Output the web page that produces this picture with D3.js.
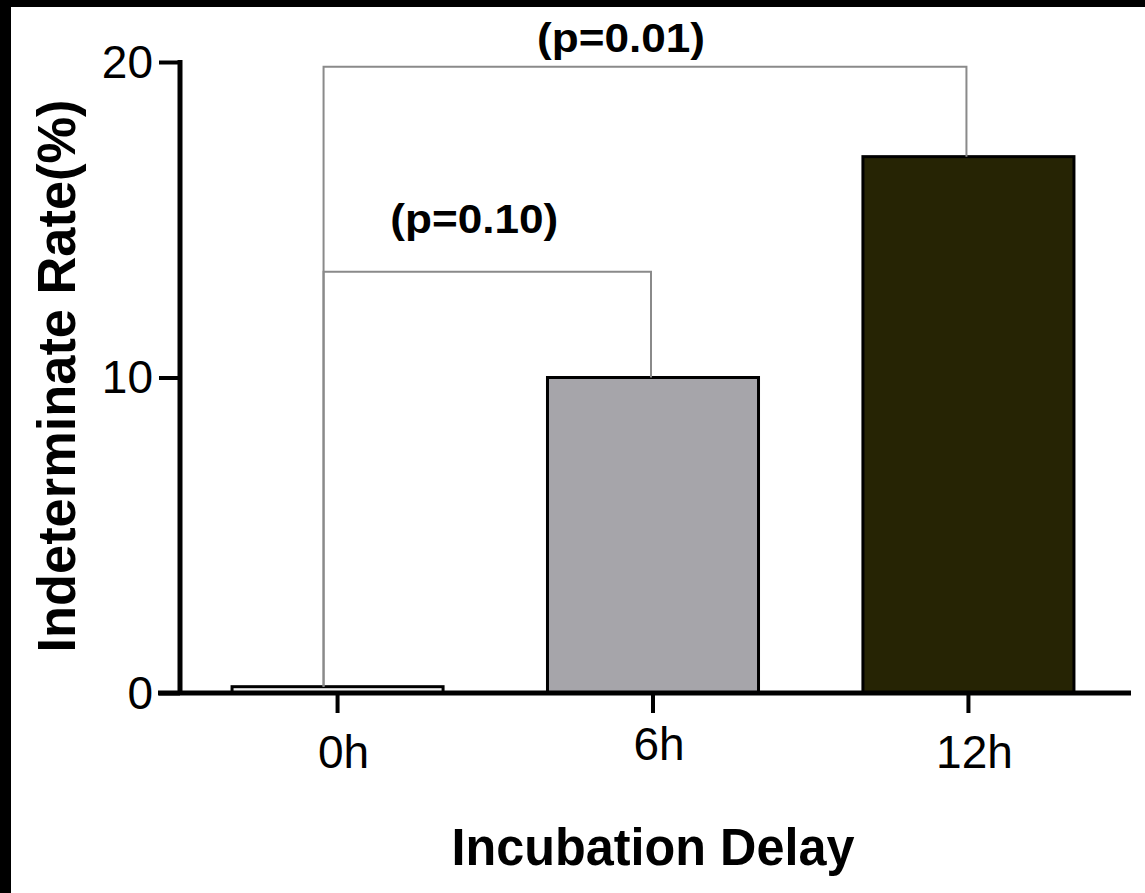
<!DOCTYPE html>
<html>
<head>
<meta charset = 'utf-8'>
<script src = 'https://d3js.org/d3.v7.min.js'></script>
<style>
body { margin: 0; background: #fff; }
text { font-family: 'Liberation Sans', Arial, sans-serif; fill: #000; }
</style>
</head>
<body>
<div id="my_dataviz"></div>
<script>
// data
var categories = ['0h', '6h', '12h'];
var rates = [0.2, 10.0, 17.0];
var barColors = ['#f2f2f2', '#a6a5aa', '#262404'];
var yTicks = [0, 10, 20];
var bracketFrom = ['0h', '0h'];
var bracketTo = ['6h', '12h'];
var bracketLevel = [13.35, 19.85];
var bracketLabels = ['(p=0.10)', '(p=0.01)'];

var W = 1145, H = 893;

var svg = d3.select('#my_dataviz')
.append('svg')
.attr('width', W)
.attr('height', H);

// black frame on the top and left edges
svg.append('rect').attr('width', W).attr('height', H).style('fill', '#000');
svg.append('rect').attr('x', 11).attr('y', 7).attr('width', W - 11).attr('height', H - 7).style('fill', '#fff');

var x = d3.scaleBand()
.domain(categories)
.range([180, 1126])
.paddingInner(0.331)
.paddingOuter(0.165);

var y = d3.scaleLinear()
.domain([0, 20])
.range([693, 62]);

var cx = function(c) { return x(c) + x.bandwidth() / 2; };

// bars
svg.selectAll('.bar')
.data(categories)
.enter()
.append('rect')
.attr('class', 'bar')
.attr('x', function(d) { return x(d); })
.attr('width', x.bandwidth())
.attr('y', function(d, i) { return y(rates[i]); })
.attr('height', function(d, i) { return y(0) - y(rates[i]); })
.style('fill', function(d, i) { return barColors[i]; })
.style('stroke', '#000')
.style('stroke-width', 3);

// significance brackets
var labelDx = [-13, -24];
var labelDy = [-39, -15];
bracketLevel.forEach(function(v, i) {
  var x1 = cx(bracketFrom[i]) - 14,
      x2 = cx(bracketTo[i]) - 2,
      i1 = categories.indexOf(bracketFrom[i]),
      i2 = categories.indexOf(bracketTo[i]);
  svg.append('path')
  .attr('d', 'M' + x1 + ',' + y(rates[i1]) + 'V' + y(v) + 'H' + x2 + 'V' + y(rates[i2]))
  .style('fill', 'none')
  .style('stroke', '#8a8a8a')
  .style('stroke-width', 2);
  svg.append('text')
  .attr('x', (x1 + x2) / 2 + labelDx[i])
  .attr('y', y(v) + labelDy[i])
  .attr('text-anchor', 'middle')
  .attr('textLength', 168)
  .attr('lengthAdjust', 'spacingAndGlyphs')
  .style('font-size', '41px')
  .style('font-weight', 'bold')
  .text(bracketLabels[i]);
});

// y axis
var yAxis = svg.append('g')
.attr('transform', 'translate(180,0)')
.call(d3.axisLeft(y).tickValues(yTicks).tickSize(21).tickPadding(6));
yAxis.select('.domain').remove();
yAxis.append('line')
.attr('x1', 0).attr('x2', 0)
.attr('y1', y(20) - 2).attr('y2', y(0) + 2)
.style('stroke', '#000').style('stroke-width', 5);

// x axis
var xAxis = svg.append('g')
.attr('transform', 'translate(0,' + y(0) + ')')
.call(d3.axisBottom(x).tickSize(20).tickPadding(22));
xAxis.select('.domain').remove();
xAxis.append('line')
.attr('x1', 158).attr('x2', 1131)
.attr('y1', 0).attr('y2', 0)
.style('stroke', '#000').style('stroke-width', 5);

svg.selectAll('.tick line').style('stroke', '#000').style('stroke-width', 4);
svg.selectAll('.tick text')
.style('font-size', '46px')
.style('font-family', "'Liberation Sans', Arial, sans-serif")
.style('fill', '#000');
yAxis.selectAll('.tick text').attr('dy', '0.33em');
xAxis.selectAll('.tick text')
.attr('dx', 6)
.attr('dy', function(d) { return d === '6h' ? '0.55em' : '0.71em'; });

// axis titles
svg.append('text')
.attr('x', 653)
.attr('y', 865)
.attr('text-anchor', 'middle')
.attr('textLength', 403)
.attr('lengthAdjust', 'spacingAndGlyphs')
.style('font-size', '51px')
.style('font-weight', 'bold')
.text('Incubation Delay');

svg.append('text')
.attr('transform', 'translate(75,376) rotate(-90)')
.attr('text-anchor', 'middle')
.attr('textLength', 553)
.attr('lengthAdjust', 'spacingAndGlyphs')
.style('font-size', '53px')
.style('font-weight', 'bold')
.text('Indeterminate Rate(%)');
</script>
</body>
</html>
